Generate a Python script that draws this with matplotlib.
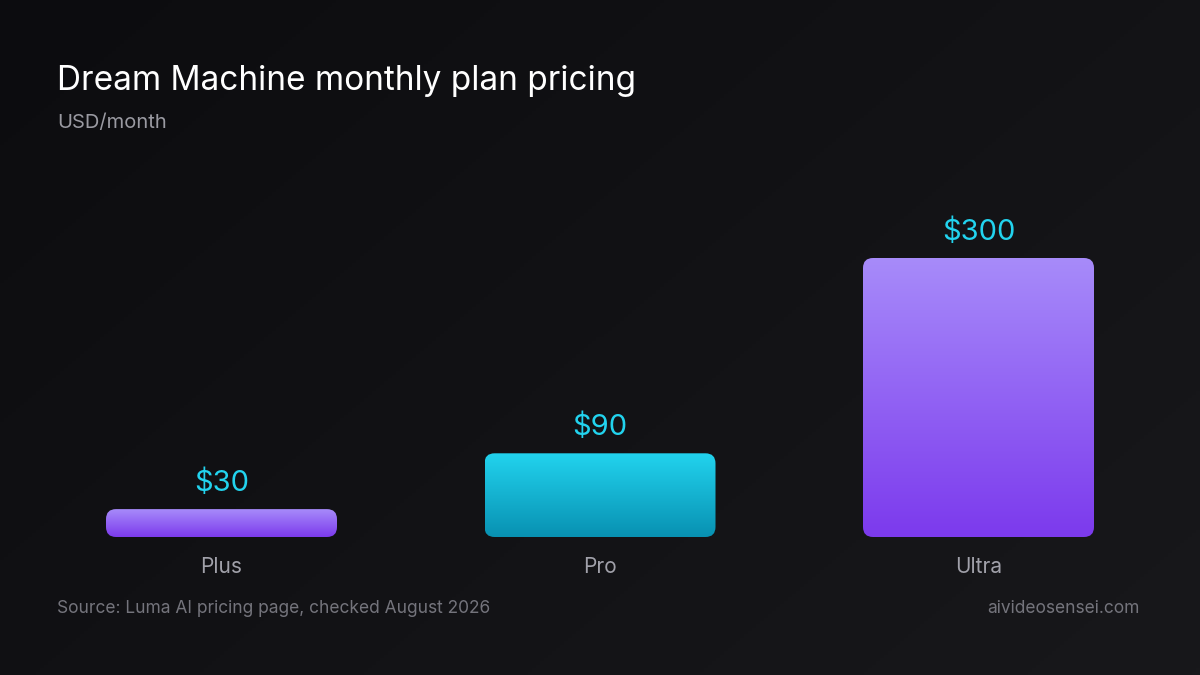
import numpy as np
import matplotlib
matplotlib.use('Agg')
import matplotlib.pyplot as plt
from matplotlib.patches import FancyBboxPatch
from matplotlib.colors import LinearSegmentedColormap

plt.rcParams['font.family'] = ['Inter', 'DejaVu Sans']

plans = ['Plus', 'Pro', 'Ultra']
prices = [30, 90, 300]
price_labels = ['$30', '$90', '$300']
bar_colors = [('#a78bfa', '#7c3aed'), ('#22d3ee', '#0891b2'), ('#a78bfa', '#7c3aed')]

W, H = 1200, 675
fig = plt.figure(figsize=(12, 6.75), dpi=100)

# background gradient
bg = fig.add_axes([0, 0, 1, 1])
bg.axis('off')
gx, gy = np.meshgrid(np.linspace(0, 1, 300), np.linspace(0, 1, 200))
grad = (gx * 0.6 + gy * 0.4)
bg_cmap = LinearSegmentedColormap.from_list('bg', ['#0c0c0f', '#18181b'])
bg.imshow(grad, cmap=bg_cmap, aspect='auto', extent=[0, 1, 0, 1], origin='upper')
bg.set_xlim(0, 1)
bg.set_ylim(0, 1)

# bar axes: centres 378.5 px apart, baseline at y=537 px, 0.93 px per dollar
step = 378.5
ymax = 330
px_per_unit = 0.93
left = 221.5 - step / 2
ax = fig.add_axes([left / W, (H - 537) / H, 3 * step / W, ymax * px_per_unit / H])
ax.set_xlim(-0.5, 2.5)
ax.set_ylim(0, ymax)
ax.axis('off')

bw = 231 / step
r = 10 / step
aspect = (1 / px_per_unit) / (1 / step)

for i, (p, v, lab, (c1, c2)) in enumerate(zip(plans, prices, price_labels, bar_colors)):
    patch = FancyBboxPatch((i - bw / 2, 0), bw, v,
                           boxstyle=f'round,pad=0,rounding_size={r}',
                           mutation_aspect=aspect, linewidth=0, facecolor='none')
    ax.add_patch(patch)
    cm = LinearSegmentedColormap.from_list('b%d' % i, [c2, c1])
    im = ax.imshow(np.linspace(0, 1, 256).reshape(-1, 1), cmap=cm, aspect='auto',
                   extent=[i - bw / 2, i + bw / 2, 0, v], origin='lower')
    im.set_clip_path(patch)
    ax.annotate(lab, (i, v), xytext=(0, 13), textcoords='offset points',
                ha='center', va='baseline', color='#22d3ee', fontsize=21)
    ax.annotate(p, (i, 0), xytext=(0, -26), textcoords='offset points',
                ha='center', va='baseline', color='#a1a1aa', fontsize=15)

ax.set_xlim(-0.5, 2.5)
ax.set_ylim(0, ymax)

fig.text(57 / W, 1 - 90 / H, 'Dream Machine monthly plan pricing', color='white',
         fontsize=24, va='baseline', ha='left')
fig.text(57 / W, 1 - 128 / H, 'USD/month', color='#9a9aa2', fontsize=14.5,
         va='baseline', ha='left')
fig.text(57 / W, 1 - 613 / H, 'Source: Luma AI pricing page, checked August 2026',
         color='#74747c', fontsize=12.5, va='baseline', ha='left')
fig.text(1140 / W, 1 - 613 / H, 'aivideosensei.com', color='#74747c', fontsize=12.5,
         va='baseline', ha='right')

fig.savefig('out.png', dpi=100)
